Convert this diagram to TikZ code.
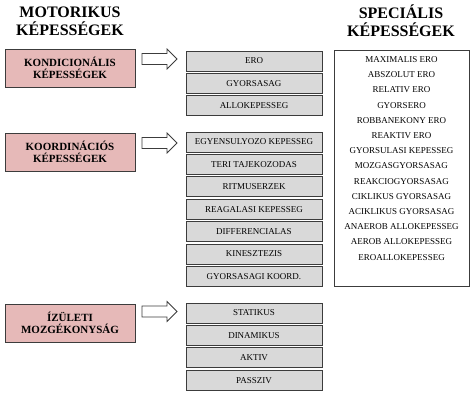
\documentclass[tikz,border=0pt]{standalone}
\usepackage{fontspec}
\setmainfont{Liberation Serif}
\usetikzlibrary{positioning}
\definecolor{rose}{RGB}{230,185,184}
\definecolor{ash}{RGB}{217,217,217}
\definecolor{ink}{RGB}{60,60,60}
\tikzset{
  headline/.style={font=\fontsize{16}{18}\selectfont\bfseries,align=center,inner sep=0pt},
  group/.style={draw=ink,fill=rose,line width=1pt,minimum width=130pt,minimum height=38pt,
    align=center,inner sep=0pt,font=\fontsize{11}{12.5}\selectfont\bfseries},
  item/.style={draw=ink,fill=ash,line width=1pt,minimum width=136pt,minimum height=20pt,
    inner sep=0pt,font=\fontsize{9}{10}\selectfont},
  spec/.style={inner sep=0pt,font=\fontsize{9}{10}\selectfont},
  specbox/.style={draw=ink,line width=1pt,minimum width=135pt,minimum height=236pt,inner sep=0pt},
  % block arrow
  pics/hollow arrow/.style={code={
    \draw[draw=ink,fill=white,line width=0.8pt] (0,-5.5) -- (25,-5.5) -- (25,-10) -- (35,0)
      -- (25,10) -- (25,5.5) -- (0,5.5) -- cycle;
  }},
}
\begin{document}
\begin{tikzpicture}[x=1pt,y=-1pt]
  \useasboundingbox (0,0) rectangle (474,400);
  \node[headline] (motor) at (70,21) {MOTORIKUS\\KÉPESSÉGEK};
  \node[headline] (special) at (401,21) {SPECIÁLIS\\KÉPESSÉGEK};

  \node[group] (kond) at (70,68) {KONDICIONÁLIS\\KÉPESSÉGEK};
  \node[group] (koord) at (70,152) {KOORDINÁCIÓS\\KÉPESSÉGEK};
  \node[group] (izul) at (70,323) {ÍZÜLETI\\MOZGÉKONYSÁG};

  \pic at (142,59) {hollow arrow};
  \pic at (142,143) {hollow arrow};
  \pic at (142,311.5) {hollow arrow};

  \foreach \t [count=\i from 0] in {ERO,GYORSASAG,ALLOKEPESSEG}
    \node[item] (k\i) at (254,{61+22.4*\i}) {\t};
  \foreach \t [count=\i from 0] in {EGYENSULYOZO KEPESSEG,TERI TAJEKOZODAS,RITMUSERZEK,
      REAGALASI KEPESSEG,DIFFERENCIALAS,KINESZTEZIS,GYORSASAGI KOORD.}
    \node[item] (c\i) at (254,{142+22.4*\i}) {\t};
  \foreach \t [count=\i from 0] in {STATIKUS,DINAMIKUS,AKTIV,PASSZIV}
    \node[item] (m\i) at (254,{313+22.4*\i}) {\t};

  \node[specbox] (sbox) at (401.5,168) {};
  \foreach \t [count=\i from 0] in {MAXIMALIS ERO,ABSZOLUT ERO,RELATIV ERO,GYORSERO,
      ROBBANEKONY ERO,REAKTIV ERO,GYORSULASI KEPESSEG,MOZGASGYORSASAG,REAKCIOGYORSASAG,
      CIKLIKUS GYORSASAG,ACIKLIKUS GYORSASAG,ANAEROB ALLOKEPESSEG,AEROB ALLOKEPESSEG,
      EROALLOKEPESSEG}
    \node[spec] (s\i) at (401.5,{59.5+15.2*\i}) {\t};
\end{tikzpicture}
\end{document}
